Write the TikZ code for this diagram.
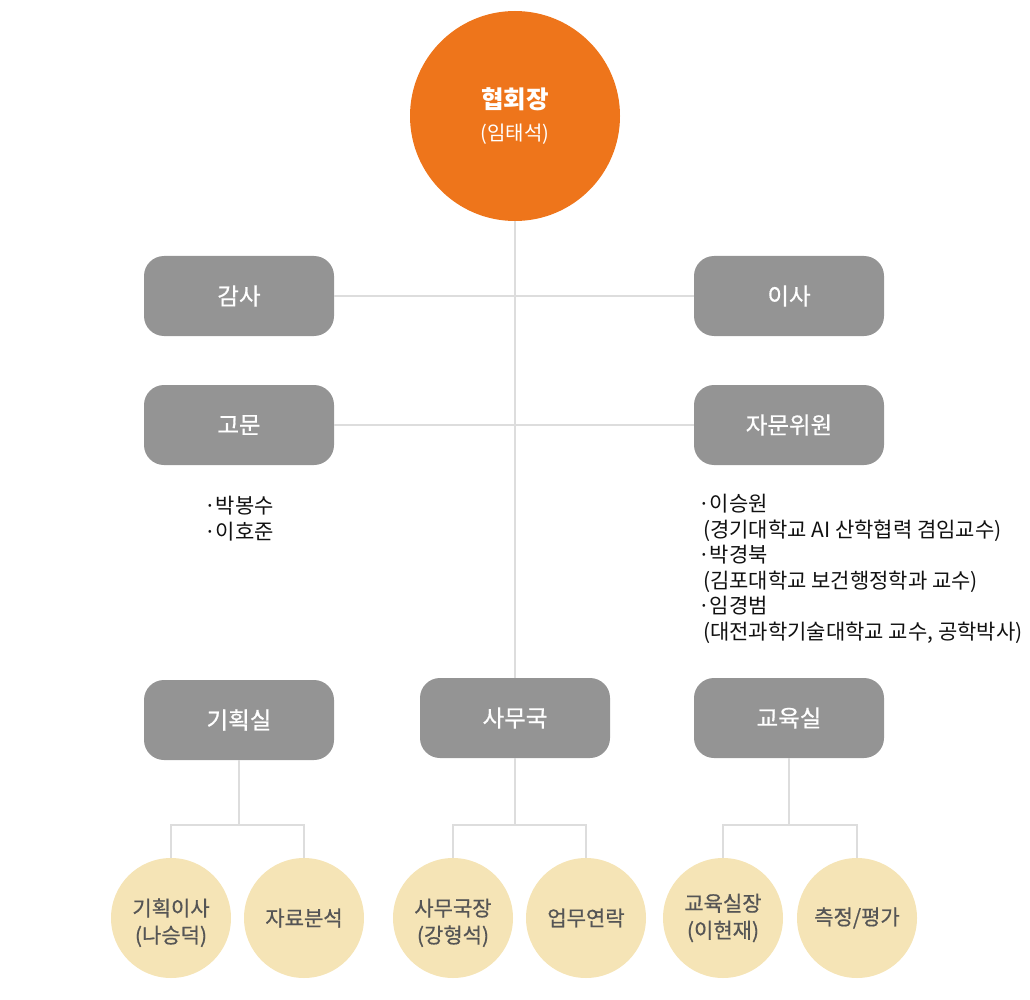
\documentclass[tikz,border=0pt]{standalone}
\usepackage{fontspec}
\setmainfont{Noto Sans CJK KR}
\newfontfamily\medfont[FakeBold=0.6]{Noto Sans CJK KR}
\usetikzlibrary{positioning}
\definecolor{chieforange}{HTML}{EE751B}
\definecolor{boxgray}{HTML}{949494}
\definecolor{linegray}{HTML}{DDDDDD}
\definecolor{subyellow}{HTML}{F5E4B6}
\definecolor{subtext}{HTML}{555555}
\definecolor{listtext}{HTML}{111111}
\begin{document}
\begin{tikzpicture}[x=1pt,y=-1pt,
  chief/.style={circle,fill=chieforange,text=white,minimum size=210pt,inner sep=0pt,align=center,font=\fontsize{20}{32}\selectfont},
  dept/.style={rounded corners=20pt,fill=boxgray,text=white,minimum width=190pt,minimum height=80pt,inner sep=0pt,font=\medfont\fontsize{23.5}{26}\selectfont},
  sub/.style={circle,fill=subyellow,text=subtext,minimum size=120pt,inner sep=0pt,align=center,font=\medfont\fontsize{21}{27}\selectfont},
  link/.style={draw=linegray,line width=2pt},
  names/.style={align=left,anchor=north west,inner sep=0pt,text=listtext,font=\fontsize{21}{25.5}\selectfont}]
\useasboundingbox (0,0) rectangle (1030,1000);
\node[chief] (chief) at (515,116) {{\fontsize{24.5}{32}\selectfont\bfseries 협회장}\\(임태석)};
\node[dept] (gamsa) at (239,296) {감사};
\node[dept] (isa) at (789,296) {이사};
\node[dept] (gomun) at (239,425) {고문};
\node[dept] (jamun) at (789,425) {자문위원};
\node[dept] (gihoek) at (239,720) {기획실};
\node[dept] (samu) at (515,718) {사무국};
\node[dept] (gyoyuk) at (789,718) {교육실};
\node[names] (gomunlist) at (204,496) {·박봉수\\·이호준};
\node[names] (jamunlist) at (698,494) {·이승원\\\hspace*{5pt}(경기대학교 AI 산학협력 겸임교수)\\·박경북\\\hspace*{5pt}(김포대학교 보건행정학과 교수)\\·임경범\\\hspace*{5pt}(대전과학기술대학교 교수, 공학박사)};
\node[sub] (gc1) at (171,918) {\mbox{}\\기획이사\\(나승덕)};
\node[sub] (gc2) at (304,918) {자료분석};
\node[sub] (sc1) at (453,918) {\mbox{}\\사무국장\\(강형석)};
\node[sub] (sc2) at (586,918) {업무연락};
\node[sub] (ec1) at (723,918) {교육실장\\(이현재)};
\node[sub] (ec2) at (857,918) {측정/평가};
\begin{scope}[on background layer/.try]
\draw[link] (chief) -- (samu);
\draw[link] (gamsa) -- (isa);
\draw[link] (gomun) -- (jamun);
\end{scope}
\foreach \d/\a/\b in {gihoek/gc1/gc2, samu/sc1/sc2, gyoyuk/ec1/ec2}{
  \draw[link] (\d.south) -- (\d.south |- 0,825);
  \draw[link] (\a.north) |- (\b.north |- 0,825) -- (\b.north);
}
\end{tikzpicture}
\end{document}
